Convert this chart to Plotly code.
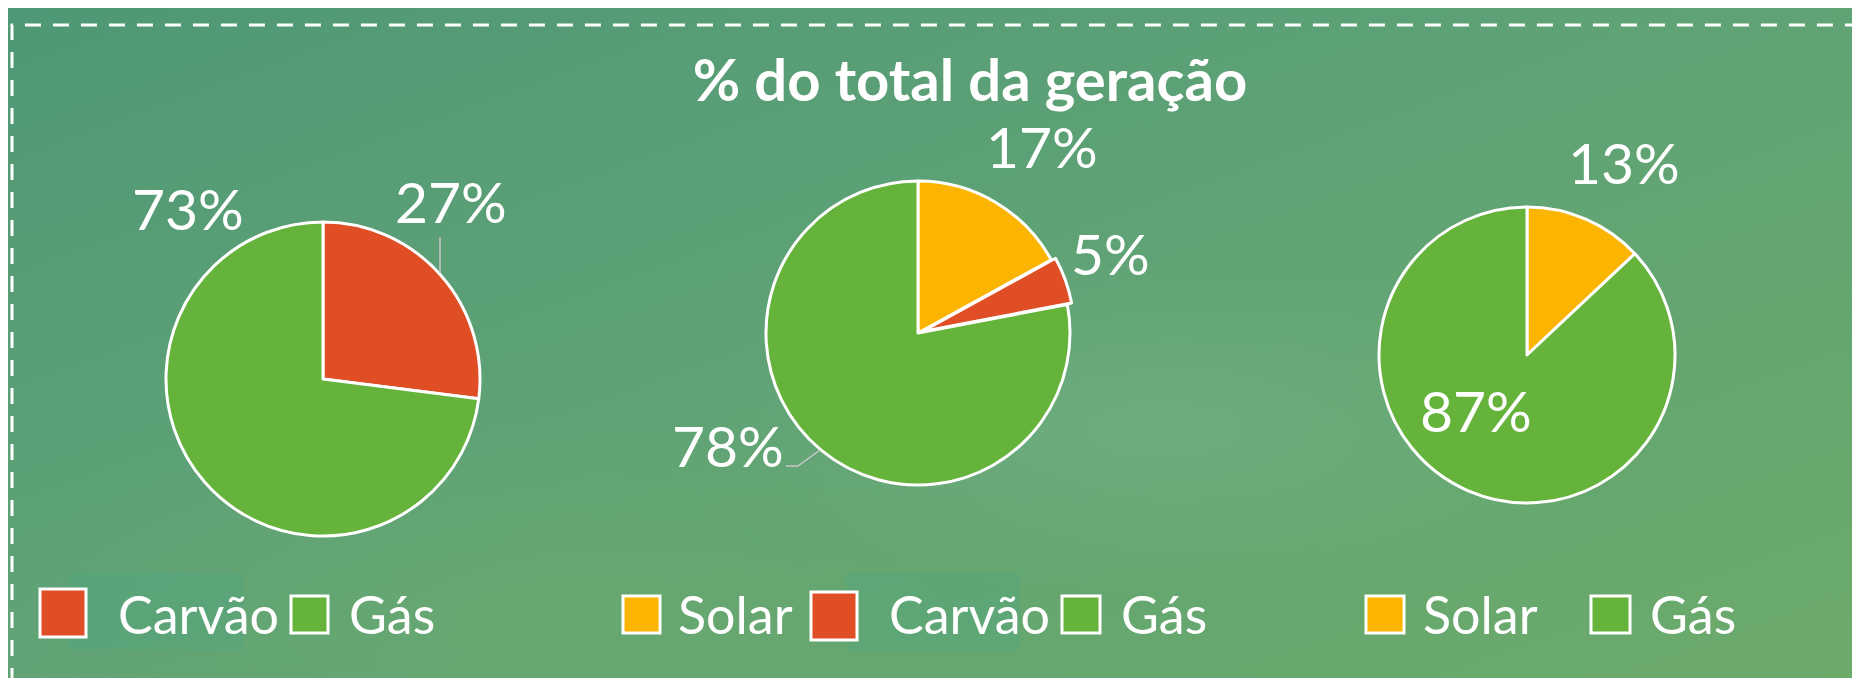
import base64
import plotly.graph_objects as go

# ---------------- data ----------------
title_text = "% do total da geração"
labels1 = ["Carvão", "Gás"]
values1 = [27, 73]
labels2 = ["Solar", "Carvão", "Gás"]
values2 = [17, 5, 78]
labels3 = ["Solar", "Gás"]
values3 = [13, 87]
pulls2 = [0, 0.03, 0]

colors = {"Carvão": "#E04E26", "Gás": "#65B33B", "Solar": "#FBB400"}

W, H = 1860, 678
OFF = 8  # page offset of the figure in the screenshot
BG = "#5fa274"
FONT = "Lato"


def px(x):
    return (x - OFF) / W


def py(y):
    return 1 - (y - OFF) / H


fig = go.Figure()

# pie geometry (pixels): center x, center y, radius, max pull
pie_geom = [(323, 379, 157, 0.0), (918, 333, 152, 0.03), (1527, 355, 148, 0.0)]
pie_data = [(labels1, values1, [0, 0]), (labels2, values2, pulls2), (labels3, values3, [0, 0])]

for (labs, vals, pulls), (cx, cy, r, mp) in zip(pie_data, pie_geom):
    half = r * (1 + mp)
    fig.add_trace(go.Pie(
        labels=labs, values=vals, pull=pulls,
        sort=False, direction="clockwise", rotation=0,
        marker=dict(colors=[colors[l] for l in labs], line=dict(color="white", width=3)),
        textinfo="none", hoverinfo="label+percent", showlegend=False,
        domain=dict(x=[px(cx - half), px(cx + half)], y=[py(cy + half), py(cy - half)]),
    ))

# value labels (positions in pixels)
label_pos = [
    [(451, 201), (188, 208)],
    [(1042, 146), (1110, 253), (728, 445)],
    [(1624, 162), (1476, 410)],
]
annotations = []
for (labs, vals, _), poss in zip(pie_data, label_pos):
    for v, (x, y) in zip(vals, poss):
        annotations.append(dict(
            x=px(x), y=py(y), xref="paper", yref="paper", text=f"{v}%",
            showarrow=False, xanchor="center", yanchor="middle",
            font=dict(family=FONT, size=57, color="white"),
        ))

shapes = []
# dashed frame
shapes.append(dict(type="rect", xref="paper", yref="paper",
                   x0=px(12), x1=1.05, y0=-0.05, y1=py(25),
                   line=dict(color="white", width=3, dash="16px,12px"),
                   fillcolor="rgba(0,0,0,0)", layer="below"))
# faint rectangles behind "Carvão" legend texts
for x0, x1 in [(69, 243), (846, 1020)]:
    shapes.append(dict(type="rect", xref="paper", yref="paper",
                       x0=px(x0), x1=px(x1), y0=py(650), y1=py(573),
                       line=dict(width=0), fillcolor="rgba(80,165,130,0.35)", layer="below"))

# leader lines
leader_color = "#c8c8c8"
shapes.append(dict(type="line", xref="paper", yref="paper", x0=px(440), x1=px(440),
                   y0=py(237), y1=py(273), line=dict(color=leader_color, width=1.5)))
shapes.append(dict(type="path", xref="paper", yref="paper",
                   path=f"M {px(786)},{py(466)} L {px(798)},{py(466)} L {px(820)},{py(450)}",
                   line=dict(color=leader_color, width=1.5)))

# custom legends: (box x0, box x1, box y0, box y1, text x) per item
legend_layout = [
    [(40, 86, 589, 637, 116), (291, 328, 596, 633, 347)],
    [(623, 660, 596, 633, 676), (811, 857, 592, 640, 887), (1062, 1100, 596, 633, 1119)],
    [(1366, 1404, 596, 633, 1421), (1591, 1630, 596, 633, 1648)],
]
for (labs, vals, _), items in zip(pie_data, legend_layout):
    for lab, (bx0, bx1, by0, by1, tx) in zip(labs, items):
        shapes.append(dict(type="rect", xref="paper", yref="paper",
                           x0=px(bx0), x1=px(bx1), y0=py(by1), y1=py(by0),
                           fillcolor=colors[lab], line=dict(color="white", width=3)))
        annotations.append(dict(
            x=px(tx), y=py(614), xref="paper", yref="paper", text=lab,
            showarrow=False, xanchor="left", yanchor="middle",
            font=dict(family=FONT, size=52, color="white"),
        ))

# soft blurred-green background (gradient image)
svg = f"""<svg xmlns='http://www.w3.org/2000/svg' width='{W}' height='{H}' viewBox='0 0 {W} {H}'>
<defs>
<linearGradient id='g' x1='0' y1='0' x2='1' y2='1'>
<stop offset='0' stop-color='#4f9875'/>
<stop offset='0.45' stop-color='#5fa276'/>
<stop offset='1' stop-color='#6cab6a'/>
</linearGradient>
<radialGradient id='r1' cx='0.62' cy='0.62' r='0.25'>
<stop offset='0' stop-color='#78b48a' stop-opacity='0.5'/>
<stop offset='1' stop-color='#78b48a' stop-opacity='0'/>
</radialGradient>
<radialGradient id='r2' cx='0.3' cy='0.9' r='0.3'>
<stop offset='0' stop-color='#6aaa70' stop-opacity='0.6'/>
<stop offset='1' stop-color='#6aaa70' stop-opacity='0'/>
</radialGradient>
</defs>
<rect width='100%' height='100%' fill='url(#g)'/>
<rect width='100%' height='100%' fill='url(#r1)'/>
<rect width='100%' height='100%' fill='url(#r2)'/>
</svg>"""
bg_src = "data:image/svg+xml;base64," + base64.b64encode(svg.encode("utf-8")).decode("ascii")

fig.update_layout(
    width=W, height=H,
    margin=dict(l=0, r=0, t=0, b=0),
    paper_bgcolor=BG, plot_bgcolor=BG,
    title=dict(text=f"<b>{title_text}</b>", x=px(970), y=py(81),
               xanchor="center", yanchor="middle", xref="paper", yref="paper",
               font=dict(family=FONT, size=58, color="white")),
    annotations=annotations,
    shapes=shapes,
    images=[dict(source=bg_src, xref="paper", yref="paper", x=0, y=1,
                 sizex=1, sizey=1, xanchor="left", yanchor="top",
                 sizing="stretch", layer="below")],
)

fig.write_html("out.html")
